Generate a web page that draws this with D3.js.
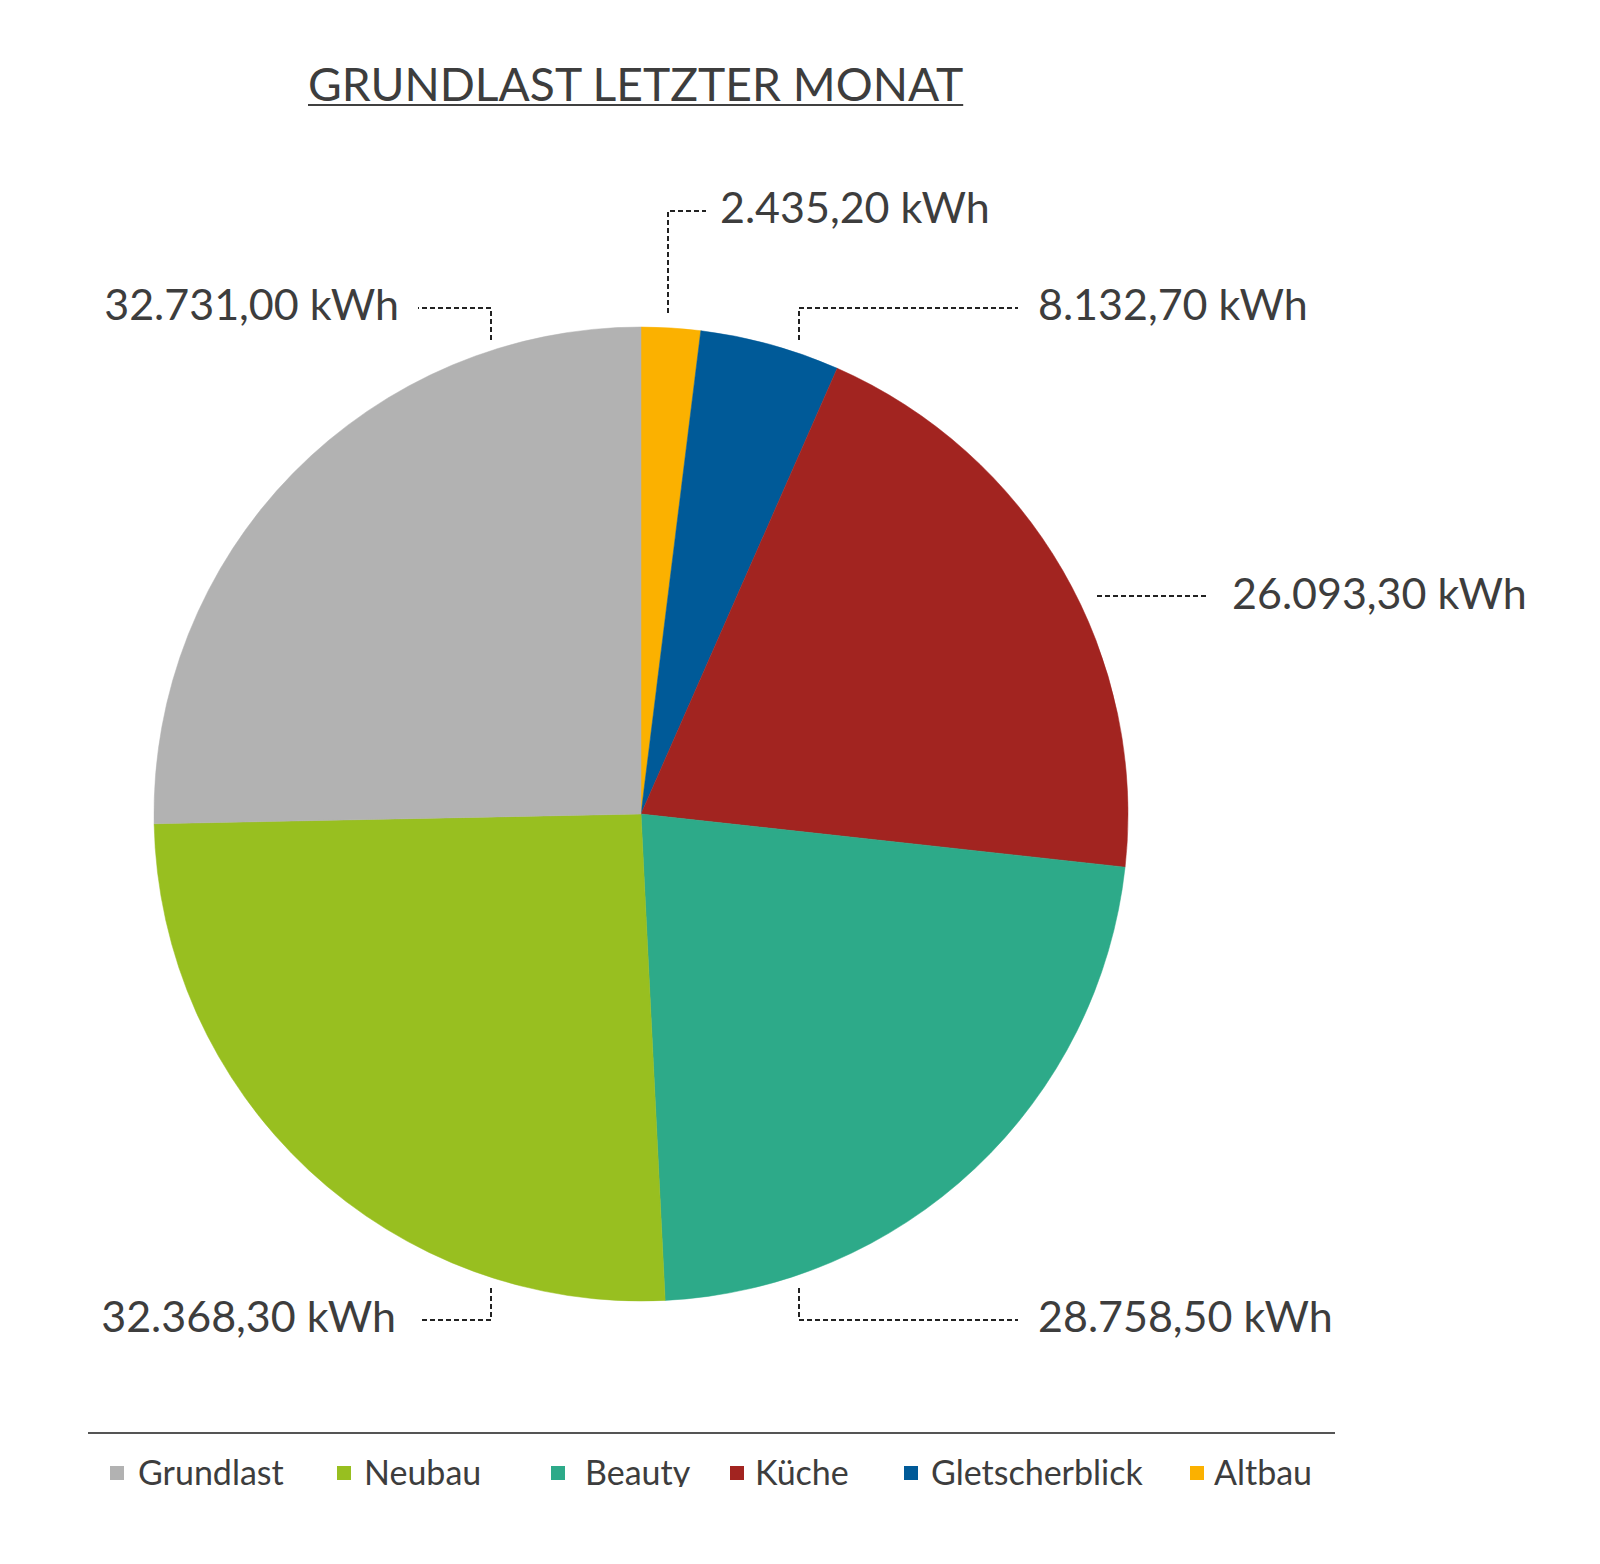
<!DOCTYPE html>
<html>
<head>
<meta charset="utf-8">
<script src="https://cdn.jsdelivr.net/npm/d3@7"></script>
<style>
  html, body { margin: 0; padding: 0; background: #ffffff; }
  svg { display: block; }
  text { font-family: Lato, "Open Sans", sans-serif; fill: #3d3d3d; }
</style>
</head>
<body>
<svg id="chart" width="1600" height="1564"></svg>
<script>
// ---------- data ----------
const title = "GRUNDLAST LETZTER MONAT";
const categories = ["Altbau", "Gletscherblick", "Küche", "Beauty", "Neubau", "Grundlast"];
// kWh values as printed on the labels
const kwhValues = [2435.20, 8132.70, 26093.30, 28758.50, 32368.30, 32731.00];
// slice sizes as drawn in the picture (percent of the circle)
const sliceShares = [1.96, 4.64, 20.14, 22.47, 25.47, 25.32];
const colors = ["#fbb100", "#005a98", "#a22420", "#2daa89", "#98bf20", "#b2b2b2"];
const legendOrder = ["Grundlast", "Neubau", "Beauty", "Küche", "Gletscherblick", "Altbau"];
const unit = "kWh";

// ---------- layout (positions / styles) ----------
const W = 1600, H = 1564;
const cx = 641, cy = 814, R = 487;
// leader lines relative to pie centre: points [dx,dy]; text anchor point and alignment
const labelLayout = {
  "Altbau":         { pts: [[27,-501],[27,-603],[65,-603]],   tx: 79,   ty: -591, anchor: "start" },
  "Gletscherblick": { pts: [[158,-474],[158,-506],[377,-506]], tx: 397,  ty: -494, anchor: "start" },
  "Küche":          { pts: [[456,-218],[568,-218]],            tx: 591,  ty: -205, anchor: "start" },
  "Beauty":         { pts: [[158,474],[158,506],[377,506]],    tx: 397,  ty: 518,  anchor: "start" },
  "Neubau":         { pts: [[-150,474],[-150,506],[-221,506]], tx: -245, ty: 518,  anchor: "end" },
  "Grundlast":      { pts: [[-150,-474],[-150,-506],[-223,-506]], tx: -242, ty: -494, anchor: "end" }
};
const legendLayout = {
  "Grundlast": { sx: 110, tx: 138 },
  "Neubau": { sx: 337, tx: 364 },
  "Beauty": { sx: 551, tx: 585 },
  "Küche": { sx: 730, tx: 755 },
  "Gletscherblick": { sx: 904, tx: 931 },
  "Altbau": { sx: 1190, tx: 1214 }
};

const svg = d3.select("#chart");

// ---------- title ----------
const titleText = svg.append("text")
  .attr("x", 308).attr("y", 101)
  .attr("font-size", 46.2)
  .attr("fill", "#404040")
  .text(title);
const tw = titleText.node().getComputedTextLength();
svg.append("line")
  .attr("x1", 308).attr("x2", 308 + tw)
  .attr("y1", 105).attr("y2", 105)
  .attr("stroke", "#404040").attr("stroke-width", 2);

// ---------- pie ----------
const color = d3.scaleOrdinal().domain(categories).range(colors);
const data = categories.map((c, i) => ({ cat: c, kwh: kwhValues[i], share: sliceShares[i] }));
const pie = d3.pie().value(d => d.share).sort(null).startAngle(0).endAngle(2 * Math.PI);
const arc = d3.arc().innerRadius(0).outerRadius(R);
const arcs = pie(data);

const g = svg.append("g").attr("transform", `translate(${cx},${cy})`);
g.selectAll("path.slice")
  .data(arcs)
  .join("path")
  .attr("class", "slice")
  .attr("d", arc)
  .attr("fill", d => color(d.data.cat))
  .attr("stroke", d => color(d.data.cat))
  .attr("stroke-width", 0.5);

// ---------- value labels ----------
const deLocale = d3.formatLocale({ decimal: ",", thousands: ".", grouping: [3], currency: ["", " €"] });
const fmt = deLocale.format(",.2f");
const line = d3.line();

g.selectAll("path.leader")
  .data(arcs)
  .join("path")
  .attr("class", "leader")
  .attr("d", d => line(labelLayout[d.data.cat].pts))
  .attr("fill", "none")
  .attr("stroke", "#222222")
  .attr("stroke-width", 2)
  .attr("stroke-dasharray", "5,3");

g.selectAll("text.vlabel")
  .data(arcs)
  .join("text")
  .attr("class", "vlabel")
  .attr("x", d => labelLayout[d.data.cat].tx)
  .attr("y", d => labelLayout[d.data.cat].ty)
  .attr("text-anchor", d => labelLayout[d.data.cat].anchor)
  .attr("font-size", 43)
  .text(d => fmt(d.data.kwh) + " " + unit);

// ---------- legend ----------
svg.append("line")
  .attr("x1", 88).attr("x2", 1335)
  .attr("y1", 1433).attr("y2", 1433)
  .attr("stroke", "#555555").attr("stroke-width", 2);

svg.append("defs").append("clipPath").attr("id", "legclip")
  .append("rect").attr("x", 0).attr("y", 1440).attr("width", W).attr("height", 47);

const leg = svg.append("g").attr("clip-path", "url(#legclip)");
const items = leg.selectAll("g.item").data(legendOrder).join("g").attr("class", "item");
items.append("rect")
  .attr("x", d => legendLayout[d].sx)
  .attr("y", 1466)
  .attr("width", 14).attr("height", 14)
  .attr("fill", d => color(d));
items.append("text")
  .attr("x", d => legendLayout[d].tx)
  .attr("y", 1485)
  .attr("font-size", 34)
  .text(d => d);
</script>
</body>
</html>
